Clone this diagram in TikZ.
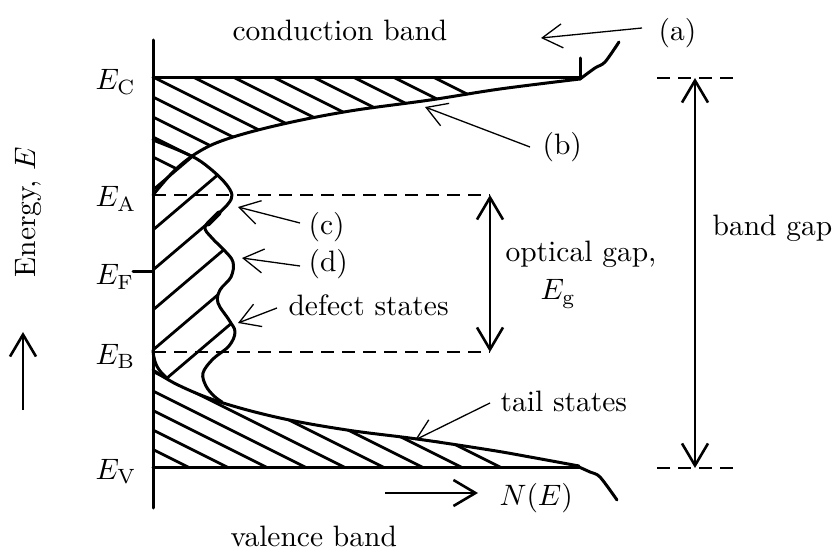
\documentclass[tikz,border=0pt]{standalone}
\usetikzlibrary{arrows.meta}
\begin{document}
\begin{tikzpicture}[x=1pt,y=-1pt,
  lbl/.style={inner sep=0pt, scale=2.95, anchor=base west},
  thickln/.style={line width=3pt, line join=round, line cap=round},
  hatchln/.style={line width=2.8pt},
  dashln/.style={line width=2.2pt, dash pattern=on 13pt off 8pt},
  annot/.style={line width=1.3pt, -{Straight Barb[length=20pt,width=24pt]}},
  gaparrow/.style={line width=2.6pt, {Straight Barb[length=22pt,width=26pt]}-{Straight Barb[length=22pt,width=26pt]}},
  onearrow/.style={line width=2.6pt, -{Straight Barb[length=22pt,width=26pt]}}
]
\useasboundingbox (0,0) rectangle (838,553);

% ---- hatching: conduction band region
\begin{scope}
\clip (153,78) -- (580,78) -- plot[smooth,tension=0.6] coordinates {(580,79) (500,89) (430,100) (350,111) (283,124) (230,138) (200,151) (175,170) (153,195)} -- cycle;
\foreach \k in {-3,...,8} \draw[hatchln] ({15+40*\k},28) -- ({415+40*\k},228);
\end{scope}
% ---- hatching: defect region
\begin{scope}
\clip (153,140) -- plot[smooth,tension=0.6] coordinates {(153,140) (178,150) (197,159) (213,171) (226,184) (232,195) (228,204) (217,215) (205,227) (212,238) (224,250) (233,262) (231,277) (220,290) (218,303) (229,320) (235,332) (229,346) (213,359) (203,373) (206,386) (214,396) (222,402)} -- (178,385) -- (168,379) .. controls (160,372) and (154,366) .. (153,350) -- cycle;
\foreach \k in {0,...,5} \draw[hatchln] (140,{201+40*\k}) -- (300,{65+40*\k});
\end{scope}
% ---- hatching: valence band region
\begin{scope}
\clip (153,370) -- plot[smooth,tension=0.6] coordinates {(153,370) (178,385) (220,402) (280,418) (347,430) (417,439) (490,450) (530,457) (579,466)} -- (579,467) -- (153,467) -- cycle;
\foreach \k in {-3,...,8} \draw[hatchln] ({-110+39*\k},318) -- ({210+39*\k},478);
\end{scope}

% ---- outlines
\draw[thickln] (153,40) -- (153,508);
\draw[thickln] (153,78) -- (580,78);
\draw[thickln] (153,467) -- (580,467);
\draw[thickln] (133,272) -- (153,272);
\draw[thickln] plot[smooth,tension=0.6] coordinates {(580,79) (500,89) (430,100) (350,111) (283,124) (230,138) (200,151) (175,170) (153,195)};
\draw[thickln] plot[smooth,tension=0.6] coordinates {(153,140) (178,150) (197,159) (213,171) (226,184) (232,195) (228,204) (217,215) (205,227) (212,238) (224,250) (233,262) (231,277) (220,290) (218,303) (229,320) (235,332) (229,346) (213,359) (203,373) (206,386) (214,396) (222,402)};
\draw[line width=5pt, line cap=round] (208,224) -- (219,213);
\draw[thickln] (153,350) .. controls (154,366) and (160,372) .. (168,379);
\draw[thickln] plot[smooth,tension=0.6] coordinates {(153,370) (178,385) (220,402) (280,418) (347,430) (417,439) (490,450) (530,457) (579,466)};
\draw[thickln] (580,58) -- (580,79);
\draw[thickln] plot[smooth,tension=0.5] coordinates {(580,79) (595,68) (605,62) (619,42)};
\draw[thickln] plot[smooth,tension=0.5] coordinates {(579,467) (590,472) (600,477) (617,500)};

% ---- dashed levels
\draw[dashln] (153,195) -- (490,195);
\draw[dashln] (153,352) -- (490,352);
\draw[dashln] (657,78) -- (735,78);
\draw[dashln] (657,468) -- (735,468);

% ---- gap arrows
\coordinate (ogtop) at (490,195);
\coordinate (ogbot) at (490,352);
\draw[gaparrow] (ogtop) -- (ogbot);
\coordinate (bgtop) at (695,78);
\coordinate (bgbot) at (695,468);
\draw[gaparrow] (bgtop) -- (bgbot);
\coordinate (enlow) at (23,410);
\coordinate (enhigh) at (23,332);
\draw[onearrow] (enlow) -- (enhigh);
\coordinate (nstart) at (385,493);
\coordinate (nend) at (478,493);
\draw[onearrow] (nstart) -- (nend);

% ---- labels
\node[lbl] (cb) at (232,41) {conduction band};
\node[lbl] (vb) at (230,546) {valence band};
\node[lbl] (la) at (658,41) {(a)};
\node[lbl] (lb) at (542,155) {(b)};
\node[lbl] (lc) at (308,235) {(c)};
\node[lbl] (ld) at (308,272) {(d)};
\node[lbl] (ds) at (288,316) {defect states};
\node[lbl] (og) at (505,262) {optical gap,};
\node[lbl] (eg) at (540,300) {$E_{\mathrm{g}}$};
\node[lbl] (bg) at (712,236) {band gap};
\node[lbl] (ts) at (500,411) {tail states};
\node[lbl] (ne) at (499,505) {$N(E)$};
\node[lbl] (lEC) at (95,90) {$E_{\mathrm{C}}$};
\node[lbl] (lEA) at (95,207) {$E_{\mathrm{A}}$};
\node[lbl] (lEF) at (95,285) {$E_{\mathrm{F}}$};
\node[lbl] (lEB) at (95,364) {$E_{\mathrm{B}}$};
\node[lbl] (lEV) at (95,479) {$E_{\mathrm{V}}$};
\node[inner sep=0pt, scale=2.95, rotate=90] (en) at (28,212) {Energy, $E$};

% ---- annotation arrows
\coordinate (as) at (642,28);  \coordinate (at) at (541,38);
\coordinate (bs) at (530,147); \coordinate (bt) at (425,107);
\coordinate (cs) at (300,223); \coordinate (ct) at (238,207);
\coordinate (dsa) at (300,266); \coordinate (dt) at (242,258);
\coordinate (es) at (277,308); \coordinate (et) at (238,323);
\coordinate (tsa) at (490,403); \coordinate (tt) at (415,440);
\draw[annot] (as) -- (at);
\draw[annot] (bs) -- (bt);
\draw[annot] (cs) -- (ct);
\draw[annot] (dsa) -- (dt);
\draw[annot] (es) -- (et);
\draw[annot] (tsa) -- (tt);
\end{tikzpicture}
\end{document}
